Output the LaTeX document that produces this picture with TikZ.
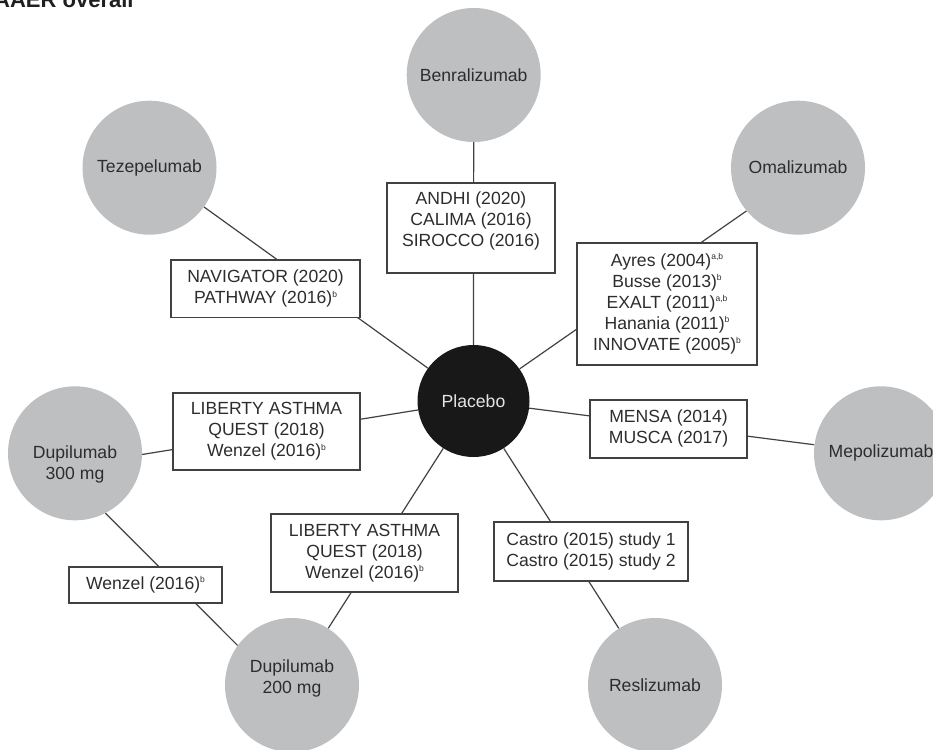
\documentclass[tikz,border=0pt]{standalone}
\usepackage{fontspec}
\setmainfont{Liberation Sans}

\definecolor{drugfill}{RGB}{189,191,193}
\definecolor{inkgray}{RGB}{45,45,45}
\definecolor{linegray}{RGB}{65,65,65}
\definecolor{placebofill}{RGB}{24,24,24}
\definecolor{placebotext}{RGB}{228,228,228}

% small raised footnote marks after a trial name
\newcommand\sps[1]{\raisebox{6.3pt}{\fontsize{8.5}{8.5}\selectfont #1}}
% centred multi-line label, optionally shifted up/down inside its node
\newcommand\stack[2][0pt]{\raisebox{#1}[\height][\depth]{\begin{tabular}{@{}c@{}}#2\end{tabular}}}

\pgfdeclarelayer{edges}
\pgfsetlayers{edges,main}

\tikzset{
  labelfont/.style={font=\fontsize{17.6}{21}\selectfont},
  drug/.style={circle, fill=drugfill, minimum size=134pt, inner sep=0pt,
               text=inkgray, labelfont},
  refnode/.style={circle, fill=placebofill, minimum size=112pt, inner sep=0pt,
                  text=placebotext, labelfont},
  trialbox/.style={rectangle, draw=linegray, line width=1.3pt, fill=white,
                   inner sep=0pt, text=inkgray, labelfont},
  link/.style={draw=linegray, line width=1.2pt},
  heading/.style={font=\bfseries\fontsize{22}{26}\selectfont, text=black!88,
                  anchor=base west, inner sep=0pt}
}

\begin{document}
\begin{tikzpicture}[x=1pt, y=-1pt]
\useasboundingbox (0,0) rectangle (933,749);
\clip (0,0) rectangle (933,749);

% heading
\node[heading] (title) at (-6,7.3) {AAER overall};

% treatments
\node[refnode] (placebo) at (473.5,401) {Placebo};
\node[drug] (benra) at (473.7,75)    {Benralizumab};
\node[drug] (tez)   at (149.5,167.7) {Tezepelumab};
\node[drug] (omal)  at (798,167.7)   {Omalizumab};
\node[drug] (dupA)  at (75,453.3)    {\stack[-11.7pt]{Dupilumab\\300 mg}};
\node[drug] (mepo)  at (881,453.3)   {Mepolizumab};
\node[drug] (dupB)  at (292,685)     {\stack[6.7pt]{Dupilumab\\200 mg}};
\node[drug] (resl)  at (655,685)     {Reslizumab};

% trials on each comparison
\node[trialbox, minimum width=168pt, minimum height=90pt] (andhi) at (471,228)
  {\stack[6.5pt]{ANDHI (2020)\\CALIMA (2016)\\SIROCCO (2016)}};
\node[trialbox, minimum width=189pt, minimum height=57.5pt] (nav) at (265.5,288.75)
  {\stack{NAVIGATOR (2020)\\PATHWAY (2016)\sps{b}}};
\node[trialbox, minimum width=180pt, minimum height=122pt] (ayres) at (667,304)
  {\stack{Ayres (2004)\sps{a,b}\\Busse (2013)\sps{b}\\EXALT (2011)\sps{a,b}\\Hanania (2011)\sps{b}\\INNOVATE (2005)\sps{b}}};
\node[trialbox, minimum width=187pt, minimum height=77pt] (libA) at (266.5,431.5)
  {\stack{LIBERTY ASTHMA\\QUEST (2018)\\Wenzel (2016)\sps{b}}};
\node[trialbox, minimum width=157pt, minimum height=58pt] (mensa) at (668.5,429)
  {\stack{MENSA (2014)\\MUSCA (2017)}};
\node[trialbox, minimum width=187pt, minimum height=78pt] (libB) at (364.5,553)
  {\stack{LIBERTY ASTHMA\\QUEST (2018)\\Wenzel (2016)\sps{b}}};
\node[trialbox, minimum width=194pt, minimum height=59pt] (castro) at (591,551.5)
  {\stack{Castro (2015) study 1\\Castro (2015) study 2}};
\node[trialbox, minimum width=153pt, minimum height=36pt] (wenzel) at (145.5,585)
  {\stack{Wenzel (2016)\sps{b}}};

% comparisons, drawn beneath circles and boxes
\begin{pgfonlayer}{edges}
\draw[link] (benra) -- (placebo);
\draw[link] (tez) -- (placebo);
\draw[link] (omal.-140) -- (placebo);
\draw[link] (mepo) -- (placebo);
\draw[link] (resl) -- (placebo);
\draw[link] (dupB) -- (placebo);
\draw[link] (dupA.-1.4) -- (placebo);
\draw[link] (dupA.-63.8) -- (dupB.144.8);
\end{pgfonlayer}
\end{tikzpicture}
\end{document}
